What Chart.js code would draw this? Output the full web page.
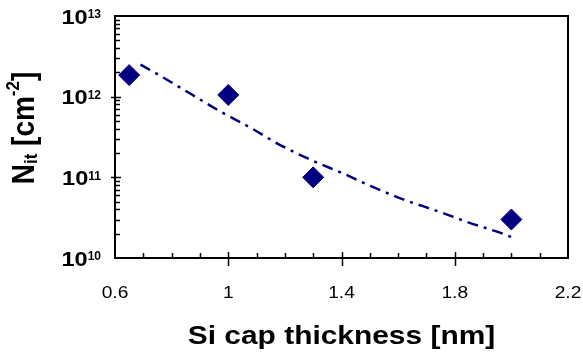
<!DOCTYPE html>
<html>
<head>
<meta charset="utf-8">
<script src="https://cdn.jsdelivr.net/npm/chart.js@4/dist/chart.umd.min.js"></script>
<style>
  html, body { margin: 0; padding: 0; background: #fff; }
  #wrap { width: 583px; height: 355px; }
</style>
</head>
<body>
<div id="wrap"><canvas id="c" width="583" height="355"></canvas></div>
<script>
// measured points
const thickness = [0.65, 1.0, 1.3, 2.0];
const nit = [1.85e12, 1.05e12, 1.0e11, 3.0e10];

// dash-dot trend line
const fitThickness = [0.69, 0.77, 0.87, 0.97, 1.08, 1.18, 1.30, 1.41, 1.51, 1.62, 1.74, 1.85, 1.97, 2.01];
const fitNit = [2.5e12, 1.73e12, 1.07e12, 6.6e11, 4.1e11, 2.55e11, 1.6e11, 1.1e11, 7.6e10, 5.3e10, 3.8e10, 2.75e10, 2.0e10, 1.76e10];

// axis ticks
const xTicks = [0.6, 1, 1.4, 1.8, 2.2];
const yTicks = [1e10, 1e11, 1e12, 1e13];
const xTitle = 'Si cap thickness [nm]';

const navy = '#000080';
const fontFam = 'Arial, "Liberation Sans", sans-serif';

// text in the picture is a bit stretched sideways
function txt(ctx, s, x, y, font, align, base, sx){
	ctx.save();
	ctx.font = font; ctx.textAlign = align; ctx.textBaseline = base;
	ctx.translate(x, y); ctx.scale(sx, 1);
	ctx.fillText(s, 0, 0);
	ctx.restore();
}

// axes, tick marks, labels and titles drawn by hand
const frame = {
	id: 'frame',
	afterDraw(chart){
		const ctx = chart.ctx, a = chart.chartArea;
		const xs = chart.scales.x, ys = chart.scales.y;
		ctx.save();
		ctx.strokeStyle = '#000';
		ctx.lineWidth = 2;
		ctx.strokeRect(a.left, a.top, a.right - a.left, a.bottom - a.top);

		// x ticks
		ctx.lineWidth = 1.5;
		ctx.beginPath();
		for(let i = 7; i <= 21; i++){
			const px = Math.round(xs.getPixelForValue(i / 10)) + 0.5;
			const major = (i - 6) % 4 === 0;
			ctx.moveTo(px, a.bottom + (major ? 8 : 0));
			ctx.lineTo(px, a.bottom - (major ? 6 : 5));
		}
		// y ticks
		for(let e = 10; e < 13; e++){
			for(let m = 1; m <= 9; m++){
				if(e === 10 && m === 1) continue;
				const py = Math.round(ys.getPixelForValue(m * Math.pow(10, e))) + 0.5;
				const major = m === 1;
				ctx.moveTo(a.left - (major ? 4 : 0), py);
				ctx.lineTo(a.left + (major ? 6 : 5), py);
			}
		}
		ctx.stroke();

		ctx.fillStyle = '#000';
		// x labels
		xTicks.forEach(v => txt(ctx, String(v), xs.getPixelForValue(v), 293, '17px ' + fontFam, 'center', 'middle', 1.13));

		// y labels 10^n
		yTicks.forEach(v => {
			const ex = String(Math.round(Math.log10(v)));
			const py = ys.getPixelForValue(v) + 2;
			ctx.font = 'bold 12px ' + fontFam;
			const w2 = ctx.measureText(ex).width;
			ctx.font = 'bold 20px ' + fontFam;
			const w1 = ctx.measureText('10').width * 1.18;
			const x0 = 101 - w1 - w2;
			txt(ctx, '10', x0, py, 'bold 20px ' + fontFam, 'left', 'middle', 1.18);
			txt(ctx, ex, x0 + w1, py - 9, 'bold 12px ' + fontFam, 'left', 'top', 1);
		});

		// x title
		txt(ctx, xTitle, (a.left + a.right) / 2, 337, 'bold 26px ' + fontFam, 'center', 'middle', 1.15);

		// y title N_it [cm^-2]
		ctx.translate(25, 128);
		ctx.rotate(-Math.PI / 2);
		ctx.scale(1, 1.12);
		const big = 'bold 28px ' + fontFam, small = 'bold 17px ' + fontFam;
		const parts = [
			{t: 'N', f: big, dy: 0},
			{t: 'it', f: small, dy: 6},
			{t: ' [cm', f: big, dy: 0},
			{t: '-2', f: small, dy: -10},
			{t: ']', f: big, dy: 0}
		];
		let total = 0;
		parts.forEach(p => { ctx.font = p.f; p.w = ctx.measureText(p.t).width; total += p.w; });
		let x = -total / 2;
		ctx.textAlign = 'left';
		ctx.textBaseline = 'middle';
		parts.forEach(p => { ctx.font = p.f; ctx.fillText(p.t, x, p.dy); x += p.w; });
		ctx.restore();
	}
};

new Chart(document.getElementById('c'), {
	type: 'scatter',
	data: {
		datasets: [
			{
				label: 'fit',
				data: fitThickness.map((x, i) => ({x: x, y: fitNit[i]})),
				showLine: true,
				borderColor: navy,
				borderWidth: 2.5,
				borderDash: [11, 6, 3, 6],
				pointRadius: 0,
				tension: 0.4,
				cubicInterpolationMode: 'monotone',
				order: 2
			},
			{
				label: 'Nit',
				data: thickness.map((x, i) => ({x: x, y: nit[i]})),
				pointStyle: 'rectRot',
				pointRadius: 10.5,
				pointBackgroundColor: navy,
				pointBorderColor: navy,
				pointBorderWidth: 1,
				order: 1
			}
		]
	},
	options: {
		responsive: false,
		animation: false,
		layout: { padding: { left: 115, right: 15, top: 16, bottom: 97 } },
		plugins: { legend: { display: false }, tooltip: { enabled: false } },
		scales: {
			x: { type: 'linear', min: 0.6, max: 2.2, display: false },
			y: { type: 'logarithmic', min: 1e10, max: 1e13, display: false }
		}
	},
	plugins: [frame]
});
</script>
</body>
</html>
